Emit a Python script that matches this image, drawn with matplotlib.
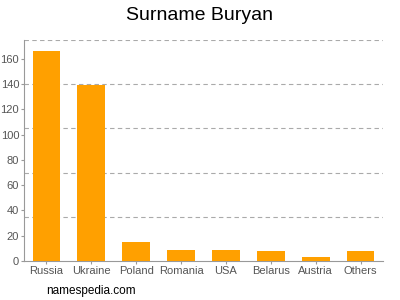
import matplotlib
matplotlib.use("Agg")
import matplotlib.pyplot as plt

plt.rcParams["font.family"] = ["Liberation Sans", "DejaVu Sans"]

countries = ["Russia", "Ukraine", "Poland", "Romania", "USA", "Belarus", "Austria", "Others"]
counts = [166, 139, 15, 9, 9, 8, 3, 8]
yticks = [0, 20, 40, 60, 80, 100, 120, 140, 160]
gridlines = [35, 70, 105, 140, 175]

fig = plt.figure(figsize=(4, 3), dpi=100)
ax = fig.add_axes([0.06, 0.13, 0.8975, 0.737])

ax.bar(range(len(countries)), counts, width=0.62, color="#FFA000", zorder=3)
for g in gridlines:
    ax.axhline(g, color="#aaaaaa", linestyle=(0, (4, 3)), linewidth=0.8, zorder=1)

ax.set_xlim(-0.5, len(countries) - 0.5)
ax.set_ylim(0, 175)
ax.set_yticks(yticks)
ax.set_xticks(range(len(countries)))
ax.set_xticklabels(countries)
ax.tick_params(colors="#999999", labelcolor="#555555", labelsize=8, length=2, width=0.8, pad=1.5)
for s in ["top", "right"]:
    ax.spines[s].set_visible(False)
for s in ["left", "bottom"]:
    ax.spines[s].set_color("#999999")
    ax.spines[s].set_linewidth(0.8)

fig.text(0.5, 0.95, "Surname Buryan", ha="center", va="center", fontsize=14, color="#000000")
fig.text(0.115, 0.03, "namespedia.com", ha="left", va="center", fontsize=8.5, color="#000000")

fig.savefig("out.png", dpi=100)
